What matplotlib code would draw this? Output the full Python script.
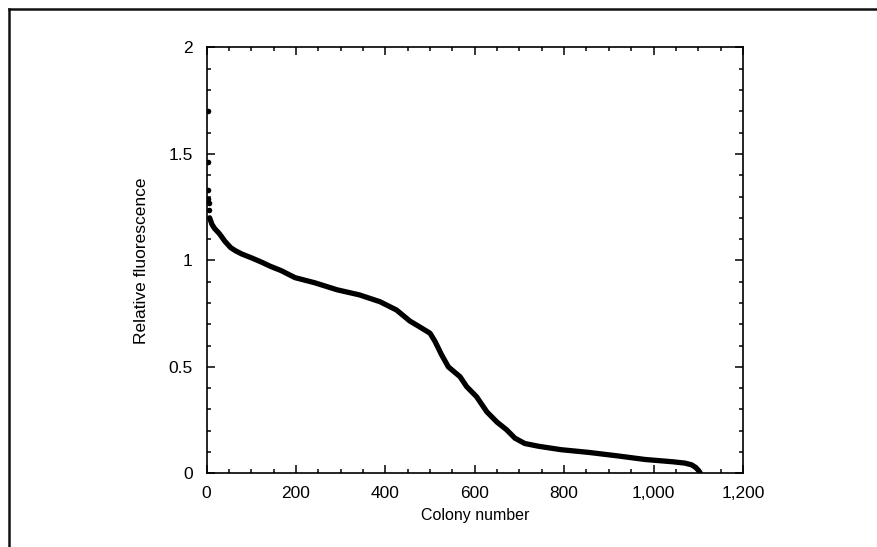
import matplotlib
matplotlib.use("Agg")
import matplotlib.pyplot as plt
from matplotlib.lines import Line2D
from matplotlib.ticker import MultipleLocator

plt.rcParams['font.family'] = ['Liberation Sans', 'DejaVu Sans']

# Sorted colony fluorescence
colony = [7, 12, 18, 29, 41, 54, 65, 79, 104, 125, 142, 167, 198, 242, 292,
          342, 388, 425, 455, 475, 500, 511, 526, 541, 555, 567, 582, 604,
          627, 650, 671, 690, 712, 743, 793, 856, 919, 981, 1044, 1070, 1085,
          1094, 1100, 1104]
fluor = [1.20, 1.17, 1.15, 1.125, 1.09, 1.06, 1.045, 1.03, 1.009, 0.99,
         0.973, 0.952, 0.919, 0.895, 0.862, 0.838, 0.806, 0.767, 0.715, 0.69,
         0.658, 0.62, 0.556, 0.50, 0.475, 0.454, 0.407, 0.36, 0.289, 0.24,
         0.205, 0.165, 0.14, 0.127, 0.111, 0.098, 0.082, 0.065, 0.054, 0.048,
         0.040, 0.028, 0.015, 0.003]

# Highest-ranked outlier colonies
outlier_colony = [3, 4, 4, 4, 5, 5]
outlier_fluor = [1.70, 1.46, 1.33, 1.287, 1.268, 1.237]

x_ticks = [0, 200, 400, 600, 800, 1000, 1200]
x_tick_labels = ['0', '200', '400', '600', '800', '1,000', '1,200']
y_ticks = [0, 0.5, 1, 1.5, 2]
y_tick_labels = ['0', '0.5', '1', '1.5', '2']

fig = plt.figure(figsize=(8.78, 5.47), dpi=100)
ax = fig.add_axes([0.2352, 0.1347, 0.6110, 0.7785])

ax.plot(colony, fluor, color='black', lw=3.8, solid_capstyle='round',
        solid_joinstyle='round')
ax.plot(outlier_colony, outlier_fluor, 'o', color='black', ms=4.0, mec='none')

ax.set_xlim(0, 1200)
ax.set_ylim(0, 2)
ax.set_xticks(x_ticks)
ax.set_xticklabels(x_tick_labels)
ax.set_yticks(y_ticks)
ax.set_yticklabels(y_tick_labels)
ax.xaxis.set_minor_locator(MultipleLocator(50))
ax.yaxis.set_minor_locator(MultipleLocator(0.1))

ax.tick_params(which='both', direction='in', top=True, right=True,
               width=1.1, color='black')
ax.tick_params(which='major', length=5.8)
ax.tick_params(which='minor', length=2.9)
ax.tick_params(axis='x', which='major', labelsize=12.5, pad=9)
ax.tick_params(axis='y', which='major', labelsize=12.5, pad=10)
for sp in ax.spines.values():
    sp.set_linewidth(1.2)

ax.set_xlabel('Colony number', fontsize=11.5, labelpad=5)
ax.set_ylabel('Relative fluorescence', fontsize=12.5, labelpad=14)

# Outer frame (top and left edges)
fx = 8.5 / 878
fy = 1 - 9 / 547
fig.add_artist(Line2D([fx, 1], [fy, fy], transform=fig.transFigure,
                      color='#111111', lw=1.8))
fig.add_artist(Line2D([fx, fx], [0, fy], transform=fig.transFigure,
                      color='#111111', lw=1.8))

fig.savefig('out.png', dpi=100)
